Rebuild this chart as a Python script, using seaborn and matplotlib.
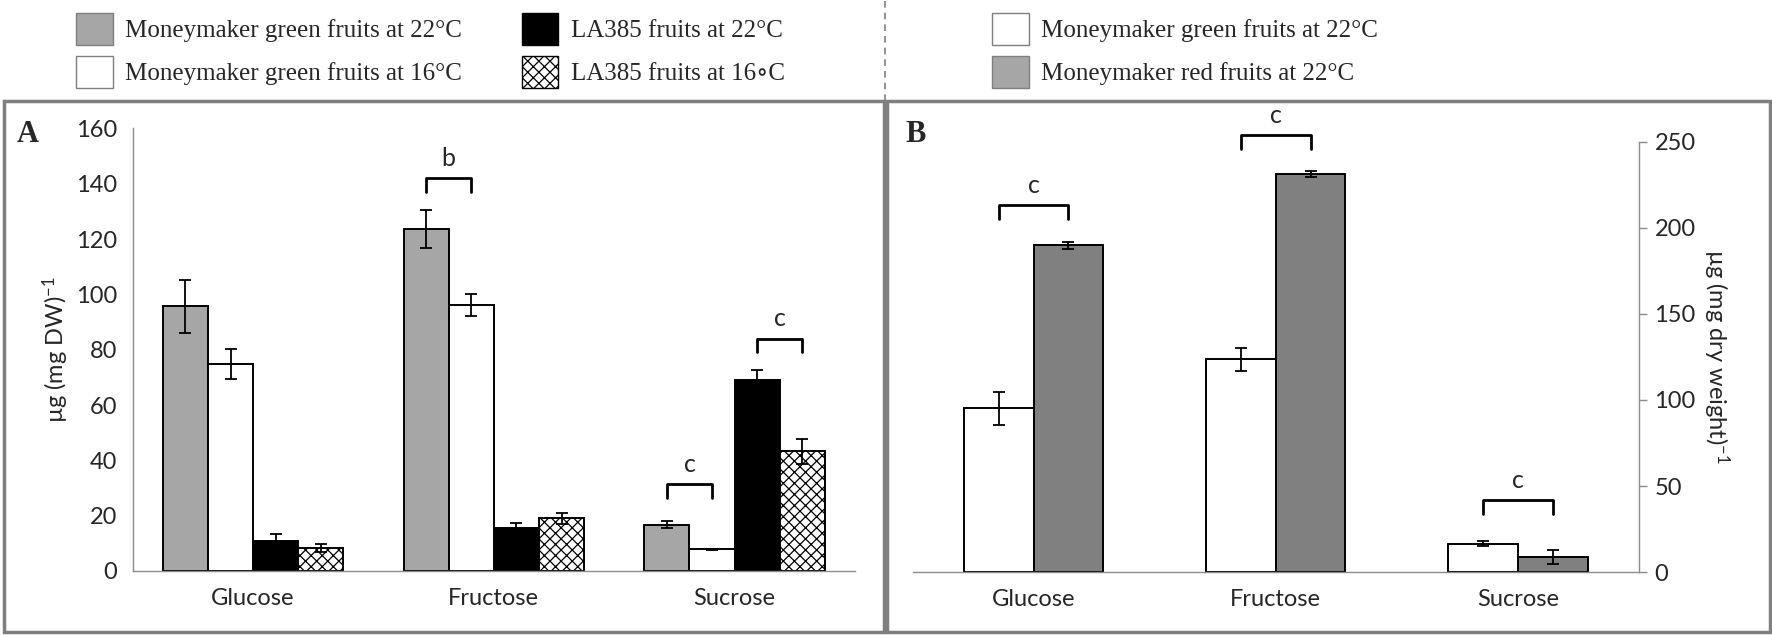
import seaborn as sns
import matplotlib.pyplot as plt
import pandas as pd
from matplotlib.patches import Patch, Rectangle
from matplotlib.lines import Line2D

# data
sugars = ["Glucose", "Fructose", "Sucrose"]

groups_a = ["Moneymaker green fruits at 22°C", "Moneymaker green fruits at 16°C",
            "LA385 fruits at 22°C", "LA385 fruits at 16∘C"]
mm_green_22 = [95.7, 123.6, 16.7]
mm_green_16 = [74.8, 96.2, 7.8]
la385_22 = [11.0, 15.4, 68.9]
la385_16 = [8.2, 19.1, 43.2]
err_mm_green_22 = [9.6, 7.0, 1.3]
err_mm_green_16 = [5.4, 4.0, 0.3]
err_la385_22 = [2.3, 2.0, 3.9]
err_la385_16 = [1.5, 2.0, 4.4]

groups_b = ["Moneymaker green fruits at 22°C", "Moneymaker red fruits at 22°C"]
mm_green_22_b = [95.2, 123.5, 16.5]
mm_red_22_b = [189.7, 231.2, 8.7]
err_green_22_b = [9.5, 6.7, 1.3]
err_red_22_b = [2.0, 2.0, 4.0]

# significance brackets: (sugar, first group, second group, height, letter)
brackets_a = [("Fructose", 0, 1, 142, "b"), ("Sucrose", 0, 1, 31.5, "c"), ("Sucrose", 2, 3, 84, "c")]
brackets_b = [("Glucose", 0, 1, 213, "c"), ("Fructose", 0, 1, 253.6, "c"), ("Sucrose", 0, 1, 41.8, "c")]

sns.set_style("white")
plt.rcParams["font.family"] = ["Lato", "DejaVu Sans"]
plt.rcParams["mathtext.default"] = "regular"
plt.rcParams["hatch.linewidth"] = 0.9

GRAY_AX = "#8c8c8c"
FS = 17

df_a = pd.DataFrame({
    "sugar": sugars * 4,
    "group": sum([[g] * 3 for g in groups_a], []),
    "value": mm_green_22 + mm_green_16 + la385_22 + la385_16,
})
errs_a = [err_mm_green_22, err_mm_green_16, err_la385_22, err_la385_16]

df_b = pd.DataFrame({
    "sugar": sugars * 2,
    "group": sum([[g] * 3 for g in groups_b], []),
    "value": mm_green_22_b + mm_red_22_b,
})
errs_b = [err_green_22_b, err_red_22_b]

fig = plt.figure(figsize=(17.72, 6.35), dpi=100)
ax_a = fig.add_axes([0.0749, 0.1008, 0.4076, 0.697])
ax_b = fig.add_axes([0.515, 0.099, 0.410, 0.678])

pal_a = {groups_a[0]: "#a6a6a6", groups_a[1]: "#ffffff", groups_a[2]: "#000000", groups_a[3]: "#ffffff"}
sns.barplot(data=df_a, x="sugar", y="value", hue="group", order=sugars, hue_order=groups_a,
            palette=pal_a, saturation=1, width=0.75, gap=0, errorbar=None,
            edgecolor="black", linewidth=1.4, legend=False, ax=ax_a)
sns.barplot(data=df_b, x="sugar", y="value", hue="group", order=sugars, hue_order=groups_b,
            palette=["#ffffff", "#808080"], saturation=1, width=0.575, gap=0, errorbar=None,
            edgecolor="black", linewidth=1.4, legend=False, ax=ax_b)

for p in ax_a.containers[3]:
    p.set_hatch("xxx")


def add_errors(ax, errs):
    for cont, err in zip(ax.containers, errs):
        xs = [p.get_x() + p.get_width() / 2 for p in cont]
        ys = [p.get_height() for p in cont]
        ax.errorbar(xs, ys, yerr=err, fmt="none", ecolor="black", elinewidth=1.3,
                    capsize=4.5, capthick=1.3, zorder=5)


def add_brackets(ax, brackets, drop):
    for sugar, g1, g2, h, letter in brackets:
        i = sugars.index(sugar)
        p1 = ax.containers[g1][i]
        p2 = ax.containers[g2][i]
        x1 = p1.get_x() + p1.get_width() / 2
        x2 = p2.get_x() + p2.get_width() / 2
        ax.plot([x1, x1, x2, x2], [h - drop, h, h, h - drop], color="black", lw=2,
                clip_on=False, solid_joinstyle="round")
        ax.annotate(letter, ((x1 + x2) / 2, h), xytext=(0, 6), textcoords="offset points",
                    ha="center", va="bottom", fontsize=18, annotation_clip=False)


add_errors(ax_a, errs_a)
add_errors(ax_b, errs_b)
add_brackets(ax_a, brackets_a, 5)
add_brackets(ax_b, brackets_b, 8)

for ax in (ax_a, ax_b):
    ax.set_xlim(-0.5, 2.5)
    ax.set_xlabel("")
    ax.set_xticks([-0.5, 0.5, 1.5, 2.5], minor=True)
    ax.tick_params(axis="x", which="major", length=0, pad=12, labelsize=FS)
    ax.tick_params(axis="x", which="minor", length=7, width=1, color=GRAY_AX, direction="out")
    ax.tick_params(axis="y", length=6, width=1, color=GRAY_AX, labelsize=FS, pad=5, direction="out")
    for s in ax.spines.values():
        s.set_color(GRAY_AX)
        s.set_linewidth(1)
    ax.spines["top"].set_visible(False)

ax_a.set_ylim(0, 160)
ax_a.set_yticks(range(0, 161, 20))
ax_a.spines["right"].set_visible(False)
ax_a.set_ylabel("µg (mg DW)$^{-1}$", fontsize=FS, labelpad=4)

ax_b.set_ylim(0, 250)
ax_b.set_yticks(range(0, 251, 50))
ax_b.yaxis.tick_right()
ax_b.yaxis.set_label_position("right")
ax_b.spines["left"].set_visible(False)
ax_b.set_ylabel("µg (mg dry weight)$^{-1}$", fontsize=FS, rotation=270, va="bottom", labelpad=4)
ax_b.tick_params(axis="y", labelright=True, right=True, left=False)

# panel letters
fig.text(0.0096, 0.776, "A", fontsize=22, fontweight="bold", family="Liberation Serif")
fig.text(0.511, 0.776, "B", fontsize=22, fontweight="bold", family="Liberation Serif")

# panel frames and legend divider
for x0, x1 in [(0.002, 0.4987), (0.5006, 0.9989)]:
    fig.patches.append(Rectangle((x0, 0.004), x1 - x0, 0.8376, transform=fig.transFigure,
                                 fill=False, edgecolor="#7f7f7f", linewidth=2.5))
fig.lines.append(Line2D([0.4995, 0.4995], [0.8416, 1.0], transform=fig.transFigure,
                        color="#7f7f7f", lw=1.2, ls=(0, (4, 3))))

# legends
leg_kw = dict(frameon=False, borderpad=0, handlelength=1.45, handleheight=1.6,
              handletextpad=0.5, labelspacing=0.45, loc="upper left",
              prop={"family": ["Liberation Serif", "DejaVu Serif", "DejaVu Sans"], "size": 18})
handles_a = [Patch(facecolor="#a6a6a6", edgecolor="#7f7f7f", label=groups_a[0]),
             Patch(facecolor="#ffffff", edgecolor="#7f7f7f", label=groups_a[1]),
             Patch(facecolor="#000000", edgecolor="#000000", label=groups_a[2]),
             Patch(facecolor="#ffffff", edgecolor="#000000", hatch="xxx", label=groups_a[3])]
fig.legend(handles=handles_a, ncol=2, columnspacing=2.4,
           bbox_to_anchor=(0.036, 1.0), **leg_kw)
handles_b = [Patch(facecolor="#ffffff", edgecolor="#7f7f7f", label=groups_b[0]),
             Patch(facecolor="#a6a6a6", edgecolor="#7f7f7f", label=groups_b[1])]
fig.legend(handles=handles_b, ncol=1, bbox_to_anchor=(0.553, 1.0), **leg_kw)

fig.savefig("out.png", dpi=100)
